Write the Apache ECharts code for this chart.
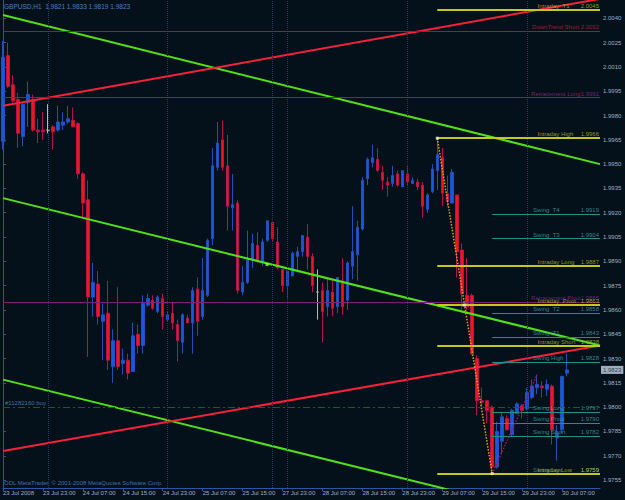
<!DOCTYPE html>
<html>
<head>
<meta charset="utf-8">
<title>GBPUSD,H1</title>
<script src="https://cdn.jsdelivr.net/npm/echarts@6.0.0/dist/echarts.min.js"></script>
<style>
html, body { margin: 0; padding: 0; background: #05111a; }
#chart { width: 625px; height: 500px; }
</style>
</head>
<body>
<div id="chart"></div>
<script>
// H1 bars, bar 0 = 23 Jul 2008 15:00, one label every 8 bars
var timeLabels = ['23 Jul 2008', '23 Jul 23:00', '24 Jul 07:00', '24 Jul 15:00', '24 Jul 23:00',
	'25 Jul 07:00', '25 Jul 15:00', '27 Jul 23:00', '28 Jul 07:00', '28 Jul 15:00',
	'28 Jul 23:00', '29 Jul 07:00', '29 Jul 15:00', '29 Jul 23:00', '30 Jul 07:00'];
var priceTicks = [1.9755, 1.9770, 1.9785, 1.9800, 1.9815, 1.9830, 1.9845, 1.9860, 1.9875, 1.9890,
	1.9905, 1.9920, 1.9935, 1.9950, 1.9965, 1.9980, 1.9995, 2.0010, 2.0025, 2.0040];
var daySeparators = [9, 33, 54, 57, 81, 105];

var opens = [1.9964, 2.0017, 1.9999, 1.9990, 1.9967, 1.9988, 1.9990, 1.9971, 1.9971, 1.9971,
	1.9973, 1.9971, 1.9974, 1.9976, 1.9977, 1.9975, 1.9944, 1.9928, 1.9868, 1.9876,
	1.9853, 1.9858, 1.9825, 1.9841, 1.9827, 1.9829, 1.9822, 1.9845, 1.9838, 1.9863,
	1.9866, 1.9859, 1.9867, 1.9854, 1.9858, 1.9851, 1.9840, 1.9855, 1.9852, 1.9873,
	1.9856, 1.9869, 1.9904, 1.9948, 1.9965, 1.9949, 1.9923, 1.9926, 1.9871, 1.9877,
	1.9891, 1.9900, 1.9890, 1.9903, 1.9914, 1.9902, 1.9885, 1.9875, 1.9881, 1.9893,
	1.9896, 1.9905, 1.9893, 1.9871, 1.9872, 1.9862, 1.9871, 1.9862, 1.9878, 1.9866,
	1.9887, 1.9894, 1.9910, 1.9941, 1.9951, 1.9953, 1.9945, 1.9939, 1.9938, 1.9944,
	1.9936, 1.9944, 1.9938, 1.9939, 1.9937, 1.9922, 1.9933, 1.9946, 1.9954, 1.9932,
	1.9926, 1.9931, 1.9897, 1.9869, 1.9869, 1.9830, 1.9804, 1.9804, 1.9800, 1.9763,
	1.9779, 1.9793, 1.9783, 1.9796, 1.9801, 1.9799, 1.9806, 1.9812, 1.9813, 1.9811,
	1.9813, 1.9781, 1.9786, 1.9821];
var highs = [2.0026, 2.0025, 2.0005, 1.9994, 1.9988, 2.0001, 1.9993, 1.9978, 1.9982, 1.9987,
	1.9974, 1.9986, 1.9982, 1.9986, 1.9985, 1.9976, 1.9945, 1.9940, 1.9889, 1.9884,
	1.9864, 1.9878, 1.9848, 1.9874, 1.9836, 1.9833, 1.9852, 1.9851, 1.9869, 1.9870,
	1.9869, 1.9869, 1.9870, 1.9859, 1.9865, 1.9854, 1.9858, 1.9857, 1.9874, 1.9880,
	1.9892, 1.9904, 1.9960, 1.9976, 1.9977, 1.9968, 1.9944, 1.9928, 1.9887, 1.9909,
	1.9907, 1.9908, 1.9904, 1.9915, 1.9914, 1.9911, 1.9885, 1.9886, 1.9896, 1.9899,
	1.9906, 1.9913, 1.9895, 1.9885, 1.9877, 1.9880, 1.9878, 1.9880, 1.9892, 1.9890,
	1.9924, 1.9915, 1.9942, 1.9954, 1.9962, 1.9960, 1.9949, 1.9942, 1.9949, 1.9946,
	1.9946, 1.9949, 1.9942, 1.9941, 1.9939, 1.9932, 1.9950, 1.9966, 1.9960, 1.9943,
	1.9947, 1.9931, 1.9901, 1.9892, 1.9870, 1.9832, 1.9812, 1.9804, 1.9801, 1.9791,
	1.9797, 1.9795, 1.9799, 1.9803, 1.9802, 1.9812, 1.9817, 1.9820, 1.9816, 1.9817,
	1.9814, 1.9789, 1.9819, 1.9833];
var lows = [1.9959, 1.9997, 1.9988, 1.9960, 1.9961, 1.9973, 1.9970, 1.9963, 1.9965, 1.9969,
	1.9959, 1.9970, 1.9971, 1.9975, 1.9973, 1.9941, 1.9917, 1.9831, 1.9856, 1.9851,
	1.9829, 1.9823, 1.9815, 1.9823, 1.9820, 1.9817, 1.9822, 1.9833, 1.9833, 1.9862,
	1.9860, 1.9858, 1.9848, 1.9853, 1.9848, 1.9828, 1.9833, 1.9852, 1.9833, 1.9844,
	1.9854, 1.9868, 1.9900, 1.9946, 1.9946, 1.9909, 1.9909, 1.9870, 1.9869, 1.9876,
	1.9886, 1.9889, 1.9887, 1.9902, 1.9902, 1.9885, 1.9871, 1.9867, 1.9881, 1.9883,
	1.9893, 1.9885, 1.9871, 1.9854, 1.9840, 1.9856, 1.9856, 1.9858, 1.9857, 1.9860,
	1.9879, 1.9878, 1.9909, 1.9937, 1.9948, 1.9945, 1.9934, 1.9930, 1.9936, 1.9936,
	1.9936, 1.9937, 1.9938, 1.9934, 1.9917, 1.9920, 1.9932, 1.9934, 1.9924, 1.9924,
	1.9926, 1.9880, 1.9860, 1.9860, 1.9832, 1.9795, 1.9800, 1.9790, 1.9759, 1.9762,
	1.9771, 1.9786, 1.9782, 1.9796, 1.9793, 1.9798, 1.9805, 1.9808, 1.9806, 1.9807,
	1.9777, 1.9767, 1.9784, 1.9819];
var closes = [2.0016, 1.9998, 1.9989, 1.9969, 1.9987, 1.9993, 1.9971, 1.9970, 1.9970, 1.9971,
	1.9970, 1.9976, 1.9976, 1.9978, 1.9973, 1.9944, 1.9926, 1.9868, 1.9877, 1.9856,
	1.9857, 1.9829, 1.9841, 1.9825, 1.9829, 1.9821, 1.9844, 1.9838, 1.9864, 1.9867,
	1.9861, 1.9868, 1.9856, 1.9857, 1.9852, 1.9841, 1.9857, 1.9852, 1.9872, 1.9853,
	1.9872, 1.9903, 1.9949, 1.9963, 1.9948, 1.9924, 1.9925, 1.9872, 1.9877, 1.9891,
	1.9901, 1.9890, 1.9902, 1.9915, 1.9904, 1.9886, 1.9875, 1.9884, 1.9895, 1.9896,
	1.9906, 1.9893, 1.9875, 1.9871, 1.9859, 1.9872, 1.9861, 1.9880, 1.9862, 1.9889,
	1.9896, 1.9911, 1.9940, 1.9953, 1.9954, 1.9946, 1.9940, 1.9937, 1.9943, 1.9937,
	1.9946, 1.9939, 1.9940, 1.9936, 1.9924, 1.9931, 1.9947, 1.9956, 1.9932, 1.9927,
	1.9945, 1.9896, 1.9870, 1.9862, 1.9833, 1.9804, 1.9803, 1.9798, 1.9763, 1.9785,
	1.9794, 1.9786, 1.9798, 1.9802, 1.9798, 1.9809, 1.9813, 1.9814, 1.9812, 1.9814,
	1.9786, 1.9784, 1.9819, 1.9823];

// levels drawn by the indicator (name, price, kind, first bar)
var levelNames = ['Intraday  T1', 'DownTrend Short', 'Retracement Long', 'Intraday High', 'Swing  T4',
	'Swing  T3', 'Intraday Long', 'Retracement Pivot', 'Intraday  Pivot', 'Swing  T2', 'Swing  T1',
	'Intraday Short', 'Swing High', 'Swing Long', 'Swing Pivot', 'Swing Short', 'Swing Low', 'Intraday Low'];
var levelValues = [2.0045, 2.0032, 1.9991, 1.9966, 1.9919, 1.9904, 1.9887, 1.9865, 1.9863, 1.9858,
	1.9843, 1.9838, 1.9828, 1.9797, 1.9790, 1.9782, 1.9759, 1.9759];
var levelKinds = ['intraday', 'downtrend', 'retracement', 'intraday', 'swing', 'swing', 'intraday',
	'retracement', 'intraday', 'swing', 'swing', 'intraday', 'swing', 'swing', 'swing', 'swing', 'swing', 'intraday'];
var levelFromBar = [87, 0, 0, 87, 98, 98, 87, 0, 87, 98, 98, 87, 98, 98, 98, 98, 98, 87];

// trend channel lines [bar, price]
var redLow = [[0, 1.9773], [119.6, 1.9838]];
var redHigh = [[0, 1.9986], [119.6, 2.0052]];
var greenTop = [[0, 2.0042], [119.6, 1.9950]];
var greenMid = [[0, 1.9929], [119.6, 1.9838]];
var greenLow = [[0, 1.9817], [119.6, 1.9726]];
var zigDown = [[87, 1.9966], [98, 1.9759]];
var zigUp = [[98, 1.9759], [107, 1.9820]];
var zigMarks = [[87, 1.9966], [92.4, 1.9863], [98, 1.9759]];
var greenMark = [[52.9, 1.9888]];
var orderPrice = 1.9798;
var orderText = '#11282160 buy';
var bidPrice = 1.9823;
var titleText = 'GBPUSD,H1  1.9821 1.9833 1.9819 1.9823';
var copyText = 'ODL MetaTrader, \u00a9 2001-2008 MetaQuotes Software Corp.';

var xMax = 119.6;
var font = 'Liberation Sans';
var axisColor = '#2656a4';
var textColor = '#9db0cb';

var kindStyle = {
	intraday: { color: '#c8c81c', text: '#b9b912', width: 2, nameX: 107.1 },
	swing: { color: '#1f8f90', text: '#3aa4a6', width: 1, nameX: 106.2 },
	retracement: { color: '#7e1c7c', text: '#982490', width: 1, nameX: 105.8 },
	downtrend: { color: '#a3143e', text: '#c2203e', width: 1, nameX: 106 }
};

var candleData = [];
for (var i = 0; i < opens.length; i++) {
	candleData.push([i, opens[i], closes[i], lows[i], highs[i]]);
}

var levelLines = [];
var levelTexts = [];
for (var k = 0; k < levelValues.length; k++) {
	var st = kindStyle[levelKinds[k]];
	levelLines.push([
		{ coord: [levelFromBar[k], levelValues[k]], lineStyle: { color: st.color, width: st.width, type: 'solid' } },
		{ coord: [xMax, levelValues[k]] }
	]);
	levelTexts.push({ value: [st.nameX, levelValues[k]], label: { formatter: levelNames[k], align: 'left', color: st.text } });
	levelTexts.push({ value: [xMax - 0.2, levelValues[k]], label: { formatter: levelValues[k].toFixed(4), align: 'right', color: st.text } });
}

function trend(data, color) {
	return {
		type: 'line', data: data, showSymbol: false, silent: true, animation: false, z: 4,
		lineStyle: { color: color, width: 2 }
	};
}

var chart = echarts.init(document.getElementById('chart'), null, { renderer: 'svg' });
var option = {
	backgroundColor: '#05111a',
	animation: false,
	textStyle: { fontFamily: font },
	grid: { left: 2, right: 25, top: 0, bottom: 12 },
	xAxis: {
		type: 'value', min: 0, max: xMax, interval: 8,
		axisLine: { show: true, lineStyle: { color: axisColor } },
		axisTick: { show: true, length: 3, lineStyle: { color: axisColor } },
		splitLine: { show: false },
		axisLabel: {
			showMaxLabel: false, align: 'left', margin: 2, fontSize: 6, color: textColor, fontFamily: font,
			formatter: function (v) { return timeLabels[Math.round(v / 8)] || ''; }
		}
	},
	yAxis: [{
		type: 'value', position: 'right', min: 1.97501, max: 2.00513,
		axisLine: { show: true, lineStyle: { color: axisColor } },
		axisTick: { show: true, length: 3, customValues: priceTicks, lineStyle: { color: axisColor } },
		splitLine: { show: false },
		axisLabel: {
			customValues: priceTicks, margin: 3, fontSize: 6, color: textColor, fontFamily: font,
			formatter: function (v) { return v.toFixed(4); }
		}
	}, {
		type: 'value', position: 'left', min: 1.97501, max: 2.00513,
		axisLine: { show: true, lineStyle: { color: axisColor } },
		axisTick: { show: false }, axisLabel: { show: false }, splitLine: { show: false }
	}],
	graphic: [
		{ type: 'text', left: 4, top: 3, z: 10, style: { text: titleText, fill: '#4f7fc2', font: '6.5px ' + font } },
		{ type: 'text', left: 4, top: 480, z: 10, style: { text: copyText, fill: '#3f70b0', font: '6px ' + font } }
	],
	series: [
		{
			// period separators and the order line
			type: 'line', data: [], silent: true, z: 1,
			markLine: {
				symbol: ['none', 'none'], silent: true, animation: false,
				label: { show: false },
				lineStyle: { color: '#1d3d60', type: 'dotted', width: 1 },
				data: daySeparators.map(function (d) { return { xAxis: d }; }).concat([{
					yAxis: orderPrice,
					lineStyle: { color: '#1b5a2c', type: [7, 3, 2, 3], width: 1 },
					label: { show: true, position: 'insideStartTop', formatter: orderText, color: '#3c74a0', fontSize: 6, fontFamily: font, distance: [2, 1] }
				}])
			}
		},
		{
			type: 'candlestick', data: candleData, barWidth: 3, clip: false, z: 2,
			encode: { x: 0, y: [1, 2, 3, 4] },
			itemStyle: {
				color: '#1656e8', color0: '#f0161c',
				borderColor: '#2050b8', borderColor0: '#b8124a', borderColorDoji: '#b8b8b8',
				borderWidth: 1
			}
		},
		trend(greenTop, '#4fe01a'),
		trend(greenMid, '#4fe01a'),
		trend(greenLow, '#4fe01a'),
		trend(redHigh, '#f5203a'),
		trend(redLow, '#f5203a'),
		{
			type: 'line', data: zigDown, showSymbol: false, silent: true, z: 5,
			lineStyle: { color: '#e0a414', width: 1.5, type: 'dotted' }
		},
		{
			type: 'line', data: zigUp, showSymbol: false, silent: true, z: 5,
			lineStyle: { color: '#a8124e', width: 1.5, type: 'dotted' }
		},
		{
			type: 'line', data: [], silent: true, z: 6,
			markLine: {
				symbol: ['none', 'none'], silent: true, animation: false,
				label: { show: false },
				data: levelLines
			}
		},
		{
			type: 'scatter', data: zigMarks, symbol: 'rect', symbolSize: 3, silent: true, z: 7,
			itemStyle: { color: '#f0f0d0' }
		},
		{
			type: 'scatter', data: greenMark, symbol: 'rect', symbolSize: 3, silent: true, z: 7,
			itemStyle: { color: '#7cff40' }
		},
		{
			type: 'scatter', data: levelTexts, symbolSize: 0, silent: true, z: 8, clip: false,
			label: { show: true, position: [0, -1], verticalAlign: 'bottom', fontSize: 6, fontFamily: font }
		},
		{
			type: 'scatter', data: [[xMax, bidPrice]], symbolSize: 0, silent: true, z: 9, clip: false,
			label: {
				show: true, position: 'right', distance: 1, formatter: bidPrice.toFixed(4),
				fontSize: 6, fontFamily: font, color: '#0a1a30', backgroundColor: '#c8d4e6', padding: [1, 2]
			}
		}
	]
};
chart.setOption(option);
</script>
</body>
</html>
